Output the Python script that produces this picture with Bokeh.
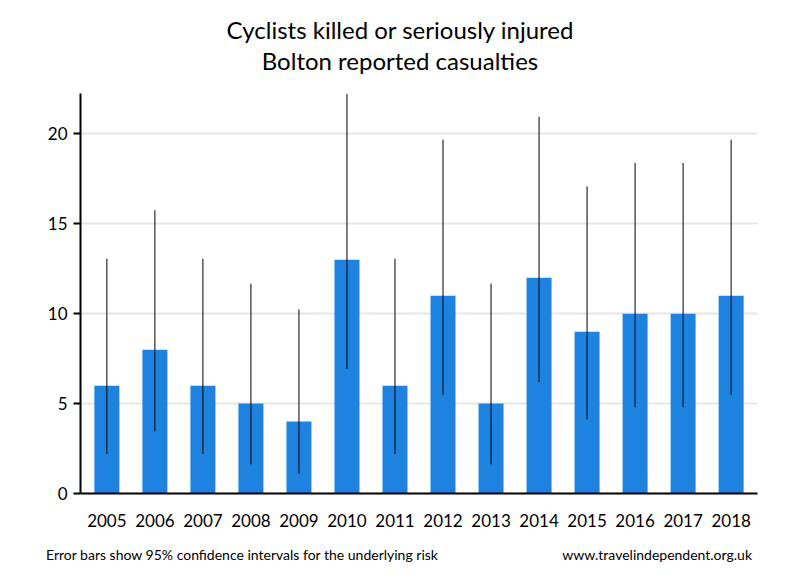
from bokeh.plotting import figure
from bokeh.models import ColumnDataSource, FactorRange, SingleIntervalTicker, Div
from bokeh.layouts import column
from bokeh.embed import file_html
from bokeh.resources import INLINE

years = ["2005", "2006", "2007", "2008", "2009", "2010", "2011",
         "2012", "2013", "2014", "2015", "2016", "2017", "2018"]
casualties = [6, 8, 6, 5, 4, 13, 6, 11, 5, 12, 9, 10, 10, 11]
ci_lower = [2.2, 3.45, 2.2, 1.62, 1.09, 6.92, 2.2, 5.49, 1.62, 6.2, 4.12, 4.8, 4.8, 5.49]
ci_upper = [13.06, 15.76, 13.06, 11.67, 10.24, 22.23, 13.06, 19.68, 11.67, 20.96, 17.08, 18.39, 18.39, 19.68]

title_lines = ["Cyclists killed or seriously injured", "Bolton reported casualties"]
footer_left = "Error bars show 95% confidence intervals for the underlying risk"
footer_right = "www.travelindependent.org.uk"

FONT = "Lato"
W = 792

# header with the two title lines
head = Div(
    text=('<div style="width:%dpx;box-sizing:border-box;padding-left:8px;padding-top:14px;'
          'text-align:center;font-family:%s;font-size:24px;line-height:31px;color:black">'
          '%s<br>%s</div>') % (W, FONT, title_lines[0], title_lines[1]),
    width=W, height=85, margin=0)

# main chart
src = ColumnDataSource(dict(x=years, top=casualties, lo=ci_lower, hi=ci_upper))

p = figure(width=W, height=455, output_backend="svg", toolbar_location=None,
           x_range=FactorRange(factors=years, range_padding=0.007),
           y_range=(0, 22.25),
           min_border_left=80, min_border_right=35, min_border_top=8, min_border_bottom=47)
p.title = None
p.outline_line_color = None

p.vbar(x="x", top="top", width=0.52, source=src, color="#1e83e0", line_color=None)
p.segment(x0="x", y0="lo", x1="x", y1="hi", source=src, line_color="black", line_width=1)

p.xgrid.grid_line_color = None
p.ygrid.grid_line_color = "#e6e6e6"
p.ygrid.grid_line_width = 2
p.yaxis.ticker = SingleIntervalTicker(interval=5)
p.yaxis.minor_tick_line_color = None
p.yaxis.major_tick_out = 7
p.yaxis.major_tick_in = 0
p.yaxis.major_tick_line_width = 2
p.yaxis.axis_line_width = 2
p.yaxis.major_label_text_font = FONT
p.yaxis.major_label_text_font_size = "17px"
p.yaxis.major_label_text_color = "black"
p.yaxis.major_label_standoff = 6

p.xaxis.axis_line_width = 2
p.xaxis.major_tick_line_color = None
p.xaxis.minor_tick_line_color = None
p.xaxis.major_label_text_font = FONT
p.xaxis.major_label_text_font_size = "17px"
p.xaxis.major_label_text_color = "black"
p.xaxis.major_label_standoff = 14

# footer
foot = Div(
    text=('<div style="width:%dpx;box-sizing:border-box;padding-left:46px;padding-right:40px;'
          'padding-top:7px;display:flex;justify-content:space-between;font-family:%s;'
          'font-size:14px;line-height:16px;color:black"><span>%s</span><span>%s</span></div>')
         % (W, FONT, footer_left, footer_right),
    width=W, height=32, margin=0)

layout = column(head, p, foot, spacing=0)
open("out.html", "w").write(file_html(layout, INLINE))
